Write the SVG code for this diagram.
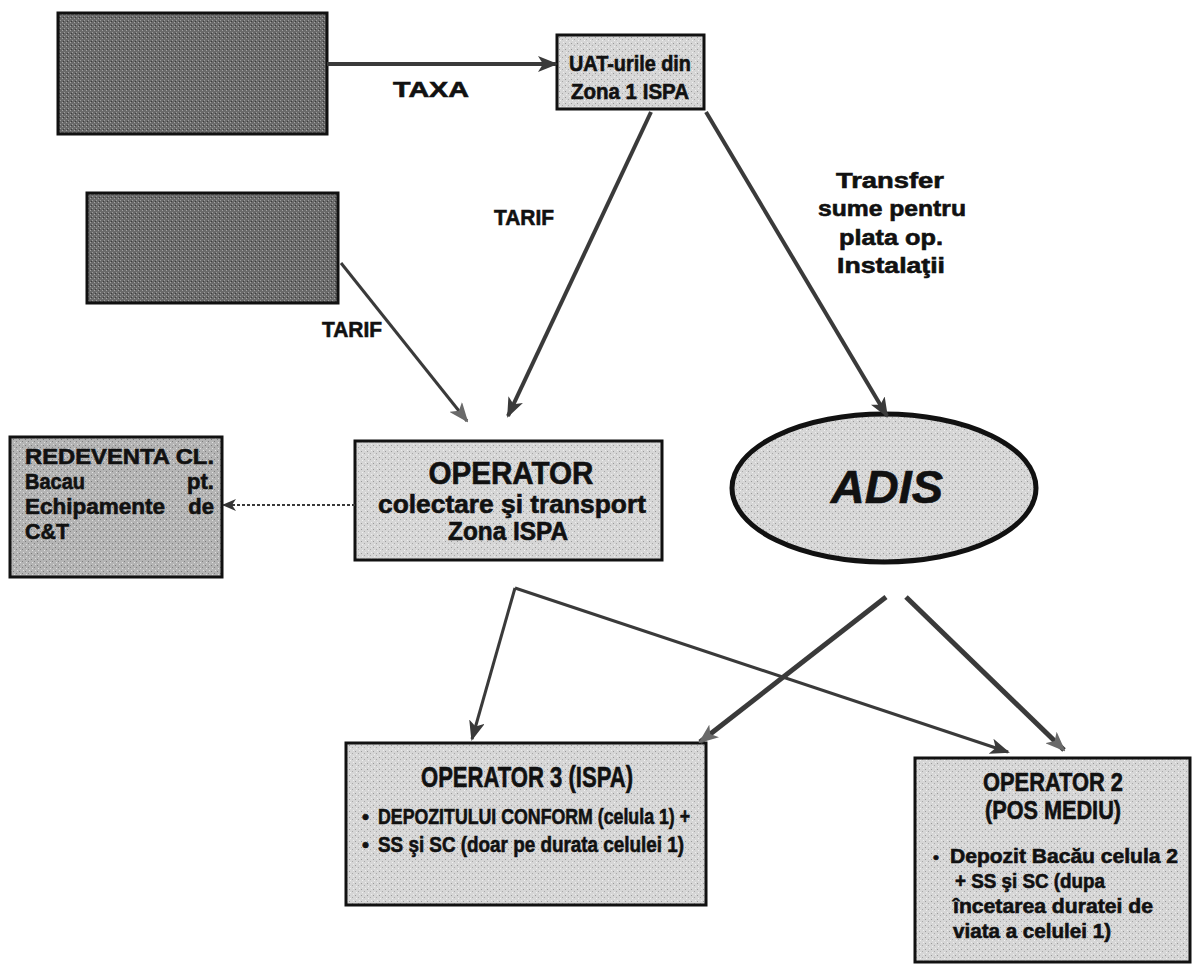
<svg xmlns="http://www.w3.org/2000/svg" width="1202" height="970" viewBox="0 0 1202 970">
<defs>
<pattern id="lite" width="6" height="6" patternUnits="userSpaceOnUse">
<rect width="6" height="6" fill="#d6d6d6"/>
<rect x="1" y="1" width="1" height="1" fill="#9a9a9a"/>
<rect x="4" y="3" width="1" height="1" fill="#a8a8a8"/>
<rect x="2" y="4" width="1" height="1" fill="#f0f0f0"/>
<rect x="5" y="0" width="1" height="1" fill="#ededed"/>
</pattern>
<pattern id="mid" width="6" height="6" patternUnits="userSpaceOnUse">
<rect width="6" height="6" fill="#b4b4b4"/>
<rect x="1" y="1" width="1" height="1" fill="#7a7a7a"/>
<rect x="4" y="3" width="1" height="1" fill="#808080"/>
<rect x="2" y="4" width="1" height="1" fill="#e0e0e0"/>
<rect x="5" y="0" width="1" height="1" fill="#dddddd"/>
</pattern>
<pattern id="dark" width="4" height="4" patternUnits="userSpaceOnUse">
<rect width="4" height="4" fill="#6a6a6a"/>
<rect x="0" y="0" width="1" height="1" fill="#9c9c9c"/>
<rect x="2" y="2" width="1" height="1" fill="#a4a4a4"/>
<rect x="3" y="1" width="1" height="1" fill="#3c3c3c"/>
</pattern>
<marker id="ah" viewBox="0 0 20 16" refX="18" refY="8" markerWidth="20" markerHeight="16" markerUnits="userSpaceOnUse" orient="auto">
<path d="M0,0 L20,8 L0,16 L5,8 z" fill="#3a3a3a"/>
</marker>
<marker id="ahg" viewBox="0 0 20 16" refX="18" refY="8" markerWidth="20" markerHeight="16" markerUnits="userSpaceOnUse" orient="auto">
<path d="M0,0 L20,8 L0,16 L5,8 z" fill="#6a6a6a"/>
</marker>
<marker id="ahs" viewBox="0 0 14 12" refX="13" refY="6" markerWidth="14" markerHeight="12" markerUnits="userSpaceOnUse" orient="auto">
<path d="M0,0 L14,6 L0,12 L4,6 z" fill="#333"/>
</marker>
</defs>
<style>
text{font-family:"Liberation Sans",Arial,sans-serif;font-weight:bold;fill:#111;stroke:#111;stroke-width:0.6}
.box{fill:url(#lite);stroke:#111;stroke-width:3}
.dbox{fill:url(#dark);stroke:#111;stroke-width:3}
.mbox{fill:url(#mid);stroke:#111;stroke-width:3}
.c{text-anchor:middle}
.e{stroke:#3a3a3a;fill:none}
</style>

<g id="dark1"><rect class="dbox" x="58" y="13" width="269" height="121"/></g>
<g id="dark2"><rect class="dbox" x="87" y="193" width="251" height="110"/></g>

<g id="uat">
<rect class="box" x="557" y="35" width="147" height="74"/>
<text class="c" x="630" y="71" font-size="22" textLength="122" lengthAdjust="spacingAndGlyphs">UAT-urile din</text>
<text class="c" x="630" y="99" font-size="22" textLength="118" lengthAdjust="spacingAndGlyphs">Zona 1 ISPA</text>
</g>

<g id="operator">
<rect class="box" x="355" y="441" width="307" height="119"/>
<text class="c" x="511" y="484" font-size="31" textLength="165" lengthAdjust="spacingAndGlyphs">OPERATOR</text>
<text class="c" x="512" y="513" font-size="25" textLength="268" lengthAdjust="spacingAndGlyphs">colectare şi transport</text>
<text class="c" x="508" y="540" font-size="25" textLength="120" lengthAdjust="spacingAndGlyphs">Zona ISPA</text>
</g>

<g id="redeventa">
<rect class="mbox" x="10" y="437" width="212" height="140"/>
<text x="25" y="464" font-size="22" textLength="189" lengthAdjust="spacingAndGlyphs">REDEVENTA CL.</text>
<text x="25" y="489" font-size="22" textLength="60" lengthAdjust="spacingAndGlyphs">Bacau</text>
<text x="214" y="489" font-size="22" text-anchor="end">pt.</text>
<text x="25" y="514" font-size="22" textLength="140" lengthAdjust="spacingAndGlyphs">Echipamente</text>
<text x="214" y="514" font-size="22" text-anchor="end">de</text>
<text x="25" y="539" font-size="22" textLength="44" lengthAdjust="spacingAndGlyphs">C&amp;T</text>
</g>

<g id="adis">
<ellipse cx="884" cy="488" rx="152" ry="74" fill="url(#lite)" stroke="#111" stroke-width="5"/>
<text class="c" x="887" y="503" font-size="47" font-style="italic">ADIS</text>
</g>

<g id="op3">
<rect class="box" x="346" y="743" width="360" height="162"/>
<text class="c" x="527" y="787" font-size="29" textLength="212" lengthAdjust="spacingAndGlyphs">OPERATOR 3 (ISPA)</text>
<text x="362" y="824" font-size="20">•</text>
<text x="378" y="824" font-size="22" textLength="312" lengthAdjust="spacingAndGlyphs">DEPOZITULUI CONFORM (celula 1) +</text>
<text x="362" y="852" font-size="20">•</text>
<text x="378" y="852" font-size="22" textLength="306" lengthAdjust="spacingAndGlyphs">SS şi SC (doar pe durata celulei 1)</text>
</g>

<g id="op2">
<rect class="box" x="915" y="758" width="275" height="204"/>
<text class="c" x="1053" y="791" font-size="25" textLength="140" lengthAdjust="spacingAndGlyphs">OPERATOR 2</text>
<text class="c" x="1053" y="819" font-size="25" textLength="136" lengthAdjust="spacingAndGlyphs">(POS MEDIU)</text>
<text x="933" y="863" font-size="17">•</text>
<text x="950" y="863" font-size="20" textLength="228" lengthAdjust="spacingAndGlyphs">Depozit Bacău celula 2</text>
<text x="955" y="888" font-size="20" textLength="150" lengthAdjust="spacingAndGlyphs">+ SS şi SC (dupa</text>
<text x="953" y="913" font-size="20" textLength="200" lengthAdjust="spacingAndGlyphs">încetarea duratei de</text>
<text x="953" y="938" font-size="20" textLength="158" lengthAdjust="spacingAndGlyphs">viata a celulei 1)</text>
</g>

<g id="connectors">
<line class="e" x1="327" y1="64" x2="556" y2="64" stroke-width="4" stroke="#4a4a4a" marker-end="url(#ah)"/>
<line class="e" x1="651" y1="112" x2="508" y2="416" stroke-width="4" marker-end="url(#ah)"/>
<line class="e" x1="706" y1="112" x2="887" y2="416" stroke-width="4" marker-end="url(#ah)"/>
<line class="e" x1="341" y1="263" x2="467" y2="421" stroke-width="3" stroke="#7a7a7a" marker-end="url(#ahg)"/>
<line class="e" x1="355" y1="505" x2="223" y2="505" stroke-width="2" stroke-dasharray="3,2" stroke="#333" marker-end="url(#ahs)"/>
<line class="e" x1="515" y1="588" x2="1008" y2="752" stroke-width="3" stroke="#333" marker-end="url(#ah)"/>
<line class="e" x1="515" y1="588" x2="472" y2="739" stroke-width="3" stroke="#333" marker-end="url(#ah)"/>
<line class="e" x1="886" y1="597" x2="700" y2="742" stroke-width="5" stroke="#6a6a6a" marker-end="url(#ahg)"/>
<line class="e" x1="906" y1="597" x2="1064" y2="750" stroke-width="5" stroke="#6a6a6a" marker-end="url(#ahg)"/>
</g>

<g id="labels">
<text class="c" x="431" y="97" font-size="22" textLength="76" lengthAdjust="spacingAndGlyphs">TAXA</text>
<text class="c" x="524" y="225" font-size="22" textLength="60" lengthAdjust="spacingAndGlyphs">TARIF</text>
<text class="c" x="352" y="337" font-size="22" textLength="60" lengthAdjust="spacingAndGlyphs">TARIF</text>
<text class="c" x="890" y="188" font-size="22" textLength="108" lengthAdjust="spacingAndGlyphs">Transfer</text>
<text class="c" x="892" y="216" font-size="22" textLength="148" lengthAdjust="spacingAndGlyphs">sume pentru</text>
<text class="c" x="891" y="245" font-size="22" textLength="104" lengthAdjust="spacingAndGlyphs">plata op.</text>
<text class="c" x="891" y="273" font-size="22" textLength="108" lengthAdjust="spacingAndGlyphs">Instalaţii</text>
</g>
</svg>
